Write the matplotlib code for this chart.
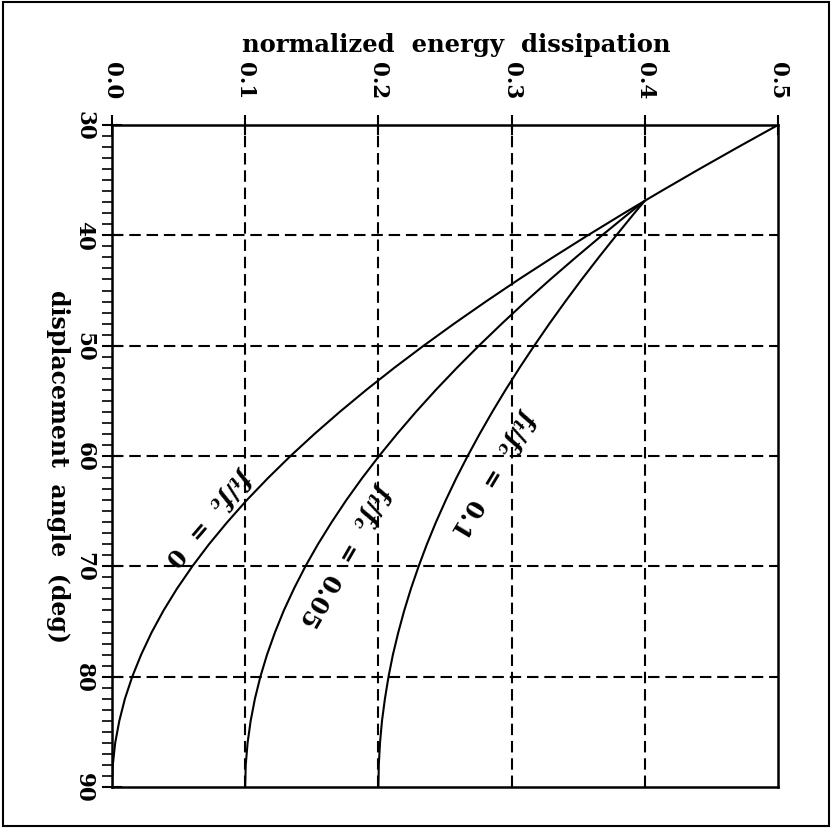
import numpy as np
import matplotlib.pyplot as plt
from matplotlib.patches import Rectangle
from matplotlib.ticker import MultipleLocator

plt.rcParams['font.family'] = 'DejaVu Serif'
plt.rcParams['font.weight'] = 'bold'
plt.rcParams['mathtext.fontset'] = 'dejavuserif'

# Curve values
angle_0 = [30, 32, 34, 36, 36.87, 38, 40, 42, 44, 46, 48, 50, 52, 54, 56, 58,
           60, 62, 64, 66, 68, 70, 72, 74, 76, 78, 80, 82, 84, 86, 88, 90]
energy_0 = [0.5000, 0.4701, 0.4408, 0.4122, 0.4000, 0.3843, 0.3572, 0.3309,
            0.3053, 0.2807, 0.2569, 0.2340, 0.2120, 0.1910, 0.1710, 0.1520,
            0.1340, 0.1171, 0.1012, 0.0865, 0.0728, 0.0603, 0.0489, 0.0387,
            0.0297, 0.0219, 0.0152, 0.0097, 0.0055, 0.0024, 0.0006, 0.0000]

angle_f = [36.87, 38, 40, 42, 44, 46, 48, 50, 52, 54, 56, 58, 60, 62, 64, 66,
           68, 70, 72, 74, 76, 78, 80, 82, 84, 86, 88, 90]
energy_005 = [0.4000, 0.3882, 0.3679, 0.3482, 0.3290, 0.3105, 0.2927, 0.2755,
              0.2590, 0.2432, 0.2282, 0.2140, 0.2005, 0.1878, 0.1759, 0.1649,
              0.1546, 0.1452, 0.1367, 0.1290, 0.1223, 0.1164, 0.1114, 0.1073,
              0.1041, 0.1018, 0.1004, 0.1000]
energy_01 = [0.4000, 0.3921, 0.3786, 0.3654, 0.3526, 0.3403, 0.3284, 0.3170,
             0.3060, 0.2955, 0.2855, 0.2760, 0.2670, 0.2585, 0.2506, 0.2432,
             0.2364, 0.2302, 0.2245, 0.2194, 0.2149, 0.2109, 0.2076, 0.2049,
             0.2027, 0.2012, 0.2003, 0.2000]

x_ticks = [0.0, 0.1, 0.2, 0.3, 0.4, 0.5]
x_ticklabels = ['0.0', '0.1', '0.2', '0.3', '0.4', '0.5']
y_ticks = [30, 40, 50, 60, 70, 80, 90]
y_ticklabels = ['30', '40', '50', '60', '70', '80', '90']

# Curve labels: (text, energy, angle, rotation)
curve_labels = [(r'$f_t/f_c$  =  0', 0.072, 65.5, 229),
                (r'$f_t/f_c$  =  0.05', 0.175, 68.9, 240),
                (r'$f_t/f_c$  =  0.1', 0.286, 61.5, 239)]

fig = plt.figure(figsize=(8.36, 8.29), dpi=100)
ax = fig.add_axes([112 / 836, 1 - 788 / 829, 666 / 836, 662 / 829])

# Grid
for x in x_ticks[1:-1]:
    ax.axvline(x, color='black', lw=1.5, ls=(0, (5.5, 2.8)), zorder=1)
for y in y_ticks[1:-1]:
    ax.axhline(y, color='black', lw=1.5, ls=(0, (5.5, 2.8)), zorder=1)

# Curves
ax.plot(energy_0, angle_0, color='black', lw=1.5, zorder=3)
ax.plot(energy_005, angle_f, color='black', lw=1.5, zorder=3)
ax.plot(energy_01, angle_f, color='black', lw=1.5, zorder=3)

for text, e, a, rot in curve_labels:
    ax.text(e, a, text, fontsize=17, rotation=rot, rotation_mode='anchor',
            ha='center', va='center', fontweight='bold')

ax.set_xlim(0, 0.5)
ax.set_ylim(90, 30)

# Axes styling
for sp in ax.spines.values():
    sp.set_linewidth(1.8)

ax.xaxis.tick_top()
ax.set_xticks(x_ticks)
ax.set_xticklabels(x_ticklabels, rotation=-90, fontsize=15.5,
                   fontweight='bold', va='bottom', ha='center')
ax.tick_params(axis='x', which='major', direction='inout', length=14,
               width=1.5, pad=12)

ax.set_yticks(y_ticks)
ax.set_yticklabels(y_ticklabels, rotation=-90, fontsize=15.5,
                   fontweight='bold', va='center', ha='right')
ax.yaxis.set_minor_locator(MultipleLocator(1))
ax.tick_params(axis='y', which='major', direction='inout', length=14,
               width=1.5, pad=5)
ax.tick_params(axis='y', which='minor', direction='out', length=7,
               width=1.2)

# Title and axis label
fig.text(456 / 836, 1 - 45 / 829, 'normalized  energy  dissipation',
         fontsize=17.5, fontweight='bold', ha='center', va='center')
fig.text(58 / 836, 1 - 467 / 829, 'displacement  angle  (deg)',
         fontsize=17, fontweight='bold', ha='center', va='center',
         rotation=-90)

# Outer frame
fig.patches.append(Rectangle((3 / 836, 2 / 829), 826 / 836, 824 / 829,
                             transform=fig.transFigure, fill=False,
                             lw=1.5, edgecolor='black'))

fig.savefig('out.png', dpi=100)
